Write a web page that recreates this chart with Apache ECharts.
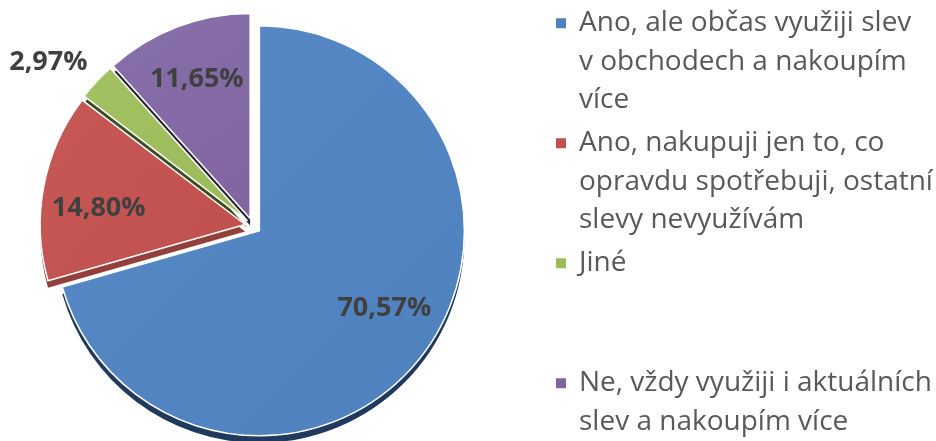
<!DOCTYPE html>
<html>
<head>
<meta charset="utf-8">
<script src="https://cdn.jsdelivr.net/npm/echarts@6/dist/echarts.min.js"></script>
<style>
html, body { margin: 0; padding: 0; background: #fff; }
#chart { width: 936px; height: 441px; }
</style>
</head>
<body>
<div id="chart"></div>
<script>
// answers (share in %)
var names = [
	'Ano, ale občas využiji slev v obchodech a nakoupím více',
	'Ano, nakupuji jen to, co opravdu spotřebuji, ostatní slevy nevyužívám',
	'Jiné',
	'Ne, vždy využiji i aktuálních slev a nakoupím více'
];
var values = [70.57, 14.80, 2.97, 11.65];
// legend text broken into lines like in the original
var legendLines = [
	['Ano, ale občas využiji slev', 'v obchodech a nakoupím', 'více'],
	['Ano, nakupuji jen to, co', 'opravdu spotřebuji, ostatní', 'slevy nevyužívám'],
	['Jiné'],
	['Ne, vždy využiji i aktuálních', 'slev a nakoupím více']
];
var colors = ['#4F81BD', '#C0504D', '#9BBB59', '#8064A2'];
var lightColors = ['#5689C6', '#C65855', '#A2C262', '#8770A9'];
var darkColors = ['#1F3A5C', '#93403D', '#3C4B20', '#2C2338'];
// small nudges of the percentage labels (3D look of the original)
var labelNudge = [[6, -12], [0, 12], [10, -6], [0, 0]];

var center = [253, 226];
var radius = 205;

function grad(i) {
	return {
		type: 'linear', x: 0, y: 0, x2: 1, y2: 1,
		colorStops: [{offset: 0, color: lightColors[i]}, {offset: 1, color: colors[i]}]
	};
}

var depthData = [], mainData = [], labelData = [];
for (var i = 0; i < values.length; i++) {
	depthData.push({name: names[i], value: values[i], selected: true, itemStyle: {color: darkColors[i]}});
	mainData.push({name: names[i], value: values[i], selected: true, itemStyle: {color: grad(i)}});
	var lab = {name: names[i], value: values[i], selected: true};
	if (i == 2) {
		lab.label = {position: 'outside', overflow: 'none'};
		lab.labelLine = {show: false, length: 22, length2: 0};
	}
	labelData.push(lab);
}

var rich = {};
for (var i = 0; i < colors.length; i++) {
	rich['b' + i] = {width: 10, height: 10, backgroundColor: colors[i], verticalAlign: 'middle'};
}
rich.t = {fontFamily: 'Open Sans', fontSize: 28, color: '#595959', lineHeight: 38.5, padding: [0, 0, 0, 13]};
rich.ti = {fontFamily: 'Open Sans', fontSize: 28, color: '#595959', lineHeight: 38.5, padding: [0, 0, 0, 23]};

var myChart = echarts.init(document.getElementById('chart'));
var option = {
	backgroundColor: '#fff',
	animation: false,
	color: colors,
	legend: {
		orient: 'vertical',
		left: 551,
		top: 4,
		height: 470,
		padding: 0,
		itemWidth: 0,
		itemHeight: 0,
		itemGap: 4.5,
		selectedMode: false,
		data: names,
		textStyle: {fontFamily: 'Open Sans', fontSize: 28, color: '#595959', lineHeight: 38.5, rich: rich},
		formatter: function(name) {
			var idx = names.indexOf(name);
			var lines = legendLines[idx];
			var out = '{b' + idx + '|}{t|' + lines[0] + '}';
			// every entry takes three lines, the last one only what it needs
			var n = idx == names.length - 1 ? lines.length : 3;
			for (var k = 1; k < n; k++) {
				out += '\n{ti|' + (lines[k] || ' ') + '}';
			}
			return out;
		}
	},
	series: [
		{
			// dark side of the slices (3D depth)
			type: 'pie',
			center: [center[0], center[1] + 7],
			radius: [0, radius],
			startAngle: 90,
			clockwise: true,
			silent: true,
			selectedMode: 'multiple',
			selectedOffset: 8,
			label: {show: false},
			labelLine: {show: false},
			itemStyle: {borderWidth: 0},
			data: depthData
		},
		{
			type: 'pie',
			center: center,
			radius: [0, radius],
			startAngle: 90,
			clockwise: true,
			silent: true,
			selectedMode: 'multiple',
			selectedOffset: 8,
			label: {show: false},
			labelLine: {show: false},
			itemStyle: {borderColor: '#ffffff', borderWidth: 1.5},
			data: mainData
		},
		{
			// only carries the percentage labels
			type: 'pie',
			center: center,
			radius: [90, 202],
			startAngle: 90,
			clockwise: true,
			silent: true,
			selectedMode: 'multiple',
			selectedOffset: 8,
			itemStyle: {color: 'rgba(0,0,0,0)', borderWidth: 0},
			label: {
				show: true,
				position: 'inside',
				fontFamily: 'Open Sans',
				fontWeight: 'bold',
				fontSize: 27,
				color: '#404040',
				formatter: function(p) {
					return p.value.toFixed(2).replace('.', ',') + '%';
				}
			},
			labelLayout: function(params) {
				var n = labelNudge[params.dataIndex];
				return {dx: n[0], dy: n[1]};
			},
			labelLine: {show: false},
			data: labelData
		}
	]
};
myChart.setOption(option);
</script>
</body>
</html>
